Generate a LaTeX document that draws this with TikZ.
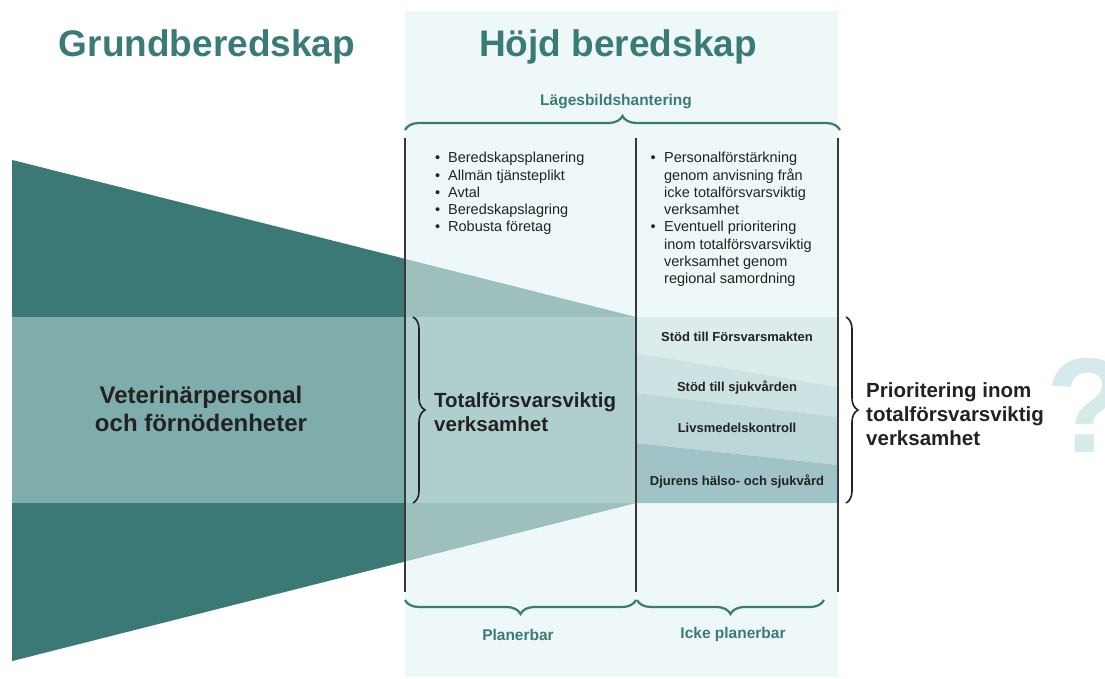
\documentclass[tikz,border=0pt]{standalone}
\usepackage{fontspec}
\setmainfont{Liberation Sans}
\usetikzlibrary{decorations.pathreplacing}

\definecolor{tealdark}{HTML}{3B7977}
\definecolor{tealtext}{HTML}{3A7B78}
\definecolor{bandmid}{HTML}{7FADAB}
\definecolor{trapfade}{HTML}{9DBFBD}
\definecolor{bandfade}{HTML}{AECFCE}
\definecolor{panel}{HTML}{EFF8F8}
\definecolor{stripeA}{HTML}{DBECEB}
\definecolor{stripeB}{HTML}{CDE2E2}
\definecolor{stripeC}{HTML}{BCD7D7}
\definecolor{stripeD}{HTML}{9FC3C6}
\definecolor{qcolor}{HTML}{D7EAEB}
\definecolor{ink}{HTML}{222222}

\begin{document}
\begin{tikzpicture}[x = 1pt, y = -1pt,
	title/.style = {font = \fontsize{37}{40}\selectfont\bfseries, text = tealtext, anchor = base, inner sep = 0pt},
	side/.style = {font = \fontsize{15.5}{18}\selectfont\bfseries, text = tealtext, anchor = base, inner sep = 0pt},
	big/.style = {font = \fontsize{20.5}{24}\selectfont\bfseries, text = ink, align = left, anchor = base west, inner sep = 0pt},
	tag/.style = {font = \fontsize{13}{15}\selectfont\bfseries, text = ink, anchor = base, inner sep = 0pt},
	list/.style = {font = \fontsize{14.5}{17.3}\selectfont, text = ink, anchor = base west, inner sep = 0pt},
	tealbrace/.style = {decorate, decoration = {brace, amplitude = 14pt}, draw = tealtext, line width = 2.2pt},
	blackbrace/.style = {decorate, decoration = {brace, amplitude = 12pt}, draw = ink, line width = 1.6pt},
	divider/.style = {draw = ink!90, line width = 1.3pt}]
	\useasboundingbox (0,0) rectangle (1105,678);

	\fill[panel] (405,11) rectangle (838,677);

	\coordinate (TL) at (12,160);
	\coordinate (TR) at (636,317);
	\coordinate (BR) at (636,503);
	\coordinate (BL) at (12,661);
	\fill[trapfade] (TL) -- (TR) -- (BR) -- (BL) -- cycle;
	\fill[bandfade] (12,317) rectangle (BR);
	\begin{scope}
		\clip (0,0) rectangle (405,678);
		\fill[tealdark] (TL) -- (TR) -- (BR) -- (BL) -- cycle;
		\fill[bandmid] (12,317) rectangle (BR);
	\end{scope}

	\fill[stripeA] (636,317) -- (838,317) -- (838,387) -- (636,353) -- cycle;
	\fill[stripeB] (636,353) -- (838,387) -- (838,417) -- (636,393) -- cycle;
	\fill[stripeC] (636,393) -- (838,417) -- (838,465) -- (636,443) -- cycle;
	\fill[stripeD] (636,443) -- (838,465) -- (838,503) -- (636,503) -- cycle;

	\draw[divider] (405,138) -- (405,592);
	\draw[divider] (636,138) -- (636,592);
	\draw[divider] (838,138) -- (838,592);

	\node[title] (grund) at (207,56) {Grundberedskap};
	\node[title] (hojd) at (618,56) {Höjd beredskap};

	\node[side] (lage) at (616,105.7) {Lägesbildshantering};
	\draw[tealbrace] (405,130) -- (840,130);

	\node[list] (planlist) at (435,162.7) {\begin{tabular}[t]{@{}l@{\hspace{7.9pt}}l@{}}
		\textbullet & Beredskapsplanering\\
		\textbullet & Allmän tjänsteplikt\\
		\textbullet & Avtal\\
		\textbullet & Beredskapslagring\\
		\textbullet & Robusta företag
	\end{tabular}};
	\node[list] (ickelist) at (650.5,162.7) {\begin{tabular}[t]{@{}l@{\hspace{8.4pt}}l@{}}
		\textbullet & Personalförstärkning\\
		 & genom anvisning från\\
		 & icke totalförsvarsviktig\\
		 & verksamhet\\
		\textbullet & Eventuell prioritering\\
		 & inom totalförsvarsviktig\\
		 & verksamhet genom\\
		 & regional samordning
	\end{tabular}};

	\node[big, font = \fontsize{24}{28.3}\selectfont\bfseries, align = center, anchor = base] (vet) at (201,431.7) {Veterinärpersonal\\och förnödenheter};
	\node[big] (totalt) at (434,431.7) {Totalförsvarsviktig\\verksamhet};
	\draw[blackbrace] (413,317) -- (413,503);

	\node[tag] (forsvar) at (737,341) {Stöd till Försvarsmakten};
	\node[tag] (sjukvard) at (737,391.7) {Stöd till sjukvården};
	\node[tag] (livs) at (737,432.7) {Livsmedelskontroll};
	\node[tag] (djur) at (737,485.7) {Djurens hälso- och sjukvård};

	\draw[blackbrace] (846,317) -- (846,503);
	\node[big] (prio) at (866,445.7) {Prioritering inom\\totalförsvarsviktig\\verksamhet};
	\node[font = \fontsize{135}{135}\selectfont\bfseries, text = qcolor, anchor = base west, inner sep = 0pt] (fraga) at (1046,452) {?};

	\draw[tealbrace] (636,600) -- (405,600);
	\draw[tealbrace] (824,600) -- (637,600);
	\node[side] (plan) at (518,640) {Planerbar};
	\node[side] (ickeplan) at (733,638) {Icke planerbar};
\end{tikzpicture}
\end{document}
